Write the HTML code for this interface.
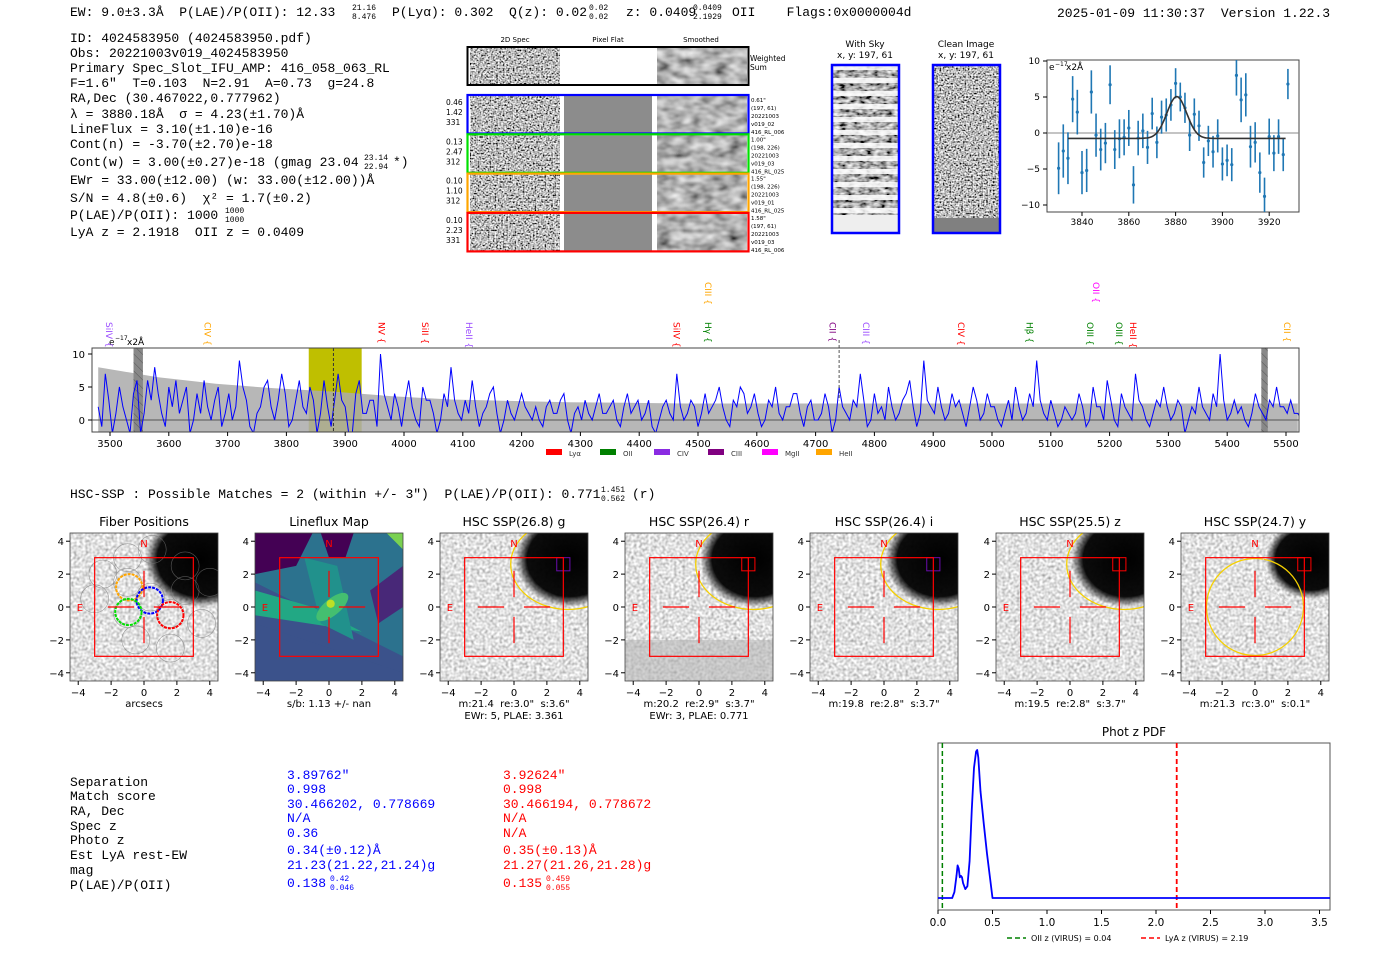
<!DOCTYPE html>
<html><head><meta charset="utf-8">
<style>
html,body{margin:0;padding:0;background:#fff;}
svg{display:block;}
svg text{white-space:pre;}
.mono{font-family:"Liberation Mono","DejaVu Sans Mono",monospace;fill:#000;}
.sans{font-family:"DejaVu Sans","Liberation Sans",sans-serif;}
.tk{font-family:"DejaVu Sans","Liberation Sans",sans-serif;fill:#000;}
</style></head>
<body>
<svg id="fig" width="1400" height="953" viewBox="0 0 1400 953" xmlns="http://www.w3.org/2000/svg" font-size="13">
<defs>
 <filter id="noiseHi" x="0" y="0" width="100%" height="100%">
  <feTurbulence type="fractalNoise" baseFrequency="0.6" numOctaves="1" seed="3"/>
  <feColorMatrix type="saturate" values="0"/>
  <feComponentTransfer><feFuncR type="linear" slope="3.2" intercept="-1.1"/><feFuncG type="linear" slope="3.2" intercept="-1.1"/><feFuncB type="linear" slope="3.2" intercept="-1.1"/><feFuncA type="linear" slope="0" intercept="1"/></feComponentTransfer>
 </filter>
 <filter id="noiseSm" x="0" y="0" width="100%" height="100%">
  <feTurbulence type="fractalNoise" baseFrequency="0.07 0.12" numOctaves="2" seed="7"/>
  <feColorMatrix type="saturate" values="0"/>
  <feComponentTransfer><feFuncR type="linear" slope="1.4" intercept="-0.25"/><feFuncG type="linear" slope="1.4" intercept="-0.25"/><feFuncB type="linear" slope="1.4" intercept="-0.25"/><feFuncA type="linear" slope="0" intercept="1"/></feComponentTransfer>
 </filter>
 <filter id="noiseImg" x="0" y="0" width="100%" height="100%">
  <feTurbulence type="fractalNoise" baseFrequency="0.35" numOctaves="1" seed="11"/>
  <feColorMatrix type="saturate" values="0"/>
  <feComponentTransfer><feFuncR type="linear" slope="1.5" intercept="0.0"/><feFuncG type="linear" slope="1.5" intercept="0.0"/><feFuncB type="linear" slope="1.5" intercept="0.0"/><feFuncA type="linear" slope="0" intercept="1"/></feComponentTransfer>
 </filter>
 <filter id="noiseSky" x="0" y="0" width="100%" height="100%">
  <feTurbulence type="fractalNoise" baseFrequency="0.15 0.3" numOctaves="2" seed="5"/>
  <feColorMatrix type="saturate" values="0"/>
  <feComponentTransfer><feFuncR type="linear" slope="2.2" intercept="-0.7"/><feFuncG type="linear" slope="2.2" intercept="-0.7"/><feFuncB type="linear" slope="2.2" intercept="-0.7"/><feFuncA type="linear" slope="0" intercept="1"/></feComponentTransfer>
 </filter>
 <radialGradient id="blob"><stop offset="0" stop-color="#000" stop-opacity="1"/><stop offset="0.78" stop-color="#000" stop-opacity="0.95"/><stop offset="1" stop-color="#000" stop-opacity="0"/></radialGradient>
 <pattern id="stripes" width="68" height="13" patternUnits="userSpaceOnUse"><rect width="68" height="5" fill="#fff" opacity="0.85"/></pattern>
 <pattern id="hatch" width="6" height="6" patternUnits="userSpaceOnUse" patternTransform="rotate(-45)"><line x1="0" y1="0" x2="0" y2="6" stroke="#333" stroke-width="1"/></pattern>
</defs>

<g>
<text class="mono" x="70" y="16">EW: 9.0±3.3Å  P(LAE)/P(OII): 12.33</text>
<text class="mono" x="352" y="10" style="font-size:8px">21.16</text><text class="mono" x="352" y="19" style="font-size:8px">8.476</text>
<text class="mono" x="392" y="16">P(Lyα): 0.302  Q(z): 0.02</text>
<text class="mono" x="589" y="10" style="font-size:8px">0.02</text><text class="mono" x="589" y="19" style="font-size:8px">0.02</text>
<text class="mono" x="626" y="16">z: 0.0409</text>
<text class="mono" x="693" y="10" style="font-size:8px">0.0409</text><text class="mono" x="693" y="19" style="font-size:8px">2.1929</text>
<text class="mono" x="732" y="16">OII    Flags:0x0000004d</text>
<text class="mono" x="1057" y="17">2025-01-09 11:30:37  Version 1.22.3</text>
</g>

<g>
<text class="mono" x="70" y="42">ID: 4024583950 (4024583950.pdf)</text>
<text class="mono" x="70" y="57">Obs: 20221003v019_4024583950</text>
<text class="mono" x="70" y="72">Primary Spec_Slot_IFU_AMP: 416_058_063_RL</text>
<text class="mono" x="70" y="87">F=1.6"  T=0.103  N=2.91  A=0.73  g=24.8</text>
<text class="mono" x="70" y="102">RA,Dec (30.467022,0.777962)</text>
<text class="mono" x="70" y="118">λ = 3880.18Å  σ = 4.23(±1.70)Å</text>
<text class="mono" x="70" y="133">LineFlux = 3.10(±1.10)e-16</text>
<text class="mono" x="70" y="148">Cont(n) = -3.70(±2.70)e-18</text>
<text class="mono" x="70" y="166">Cont(w) = 3.00(±0.27)e-18 (gmag 23.04</text>
<text class="mono" x="364" y="160" style="font-size:8px">23.14</text><text class="mono" x="364" y="169" style="font-size:8px">22.94</text>
<text class="mono" x="393" y="166">*)</text>
<text class="mono" x="70" y="184">EWr = 33.00(±12.00) (w: 33.00(±12.00))Å</text>
<text class="mono" x="70" y="202">S/N = 4.8(±0.6)  χ² = 1.7(±0.2)</text>
<text class="mono" x="70" y="219">P(LAE)/P(OII): 1000</text>
<text class="mono" x="225" y="213" style="font-size:8px">1000</text><text class="mono" x="225" y="222" style="font-size:8px">1000</text>
<text class="mono" x="70" y="236">LyA z = 2.1918  OII z = 0.0409</text>
</g>

<g class="sans">
<text x="515" y="42" font-size="7" text-anchor="middle">2D Spec</text>
<text x="608" y="42" font-size="7" text-anchor="middle">Pixel Flat</text>
<text x="701" y="42" font-size="7" text-anchor="middle">Smoothed</text>
<g>
<rect x="470" y="48" width="90" height="36" fill="#888" filter="url(#noiseHi)"/>
<rect x="657" y="48" width="90" height="36" fill="#888" filter="url(#noiseSm)"/>
<rect x="467.5" y="47" width="281" height="38" fill="none" stroke="#000" stroke-width="2"/>
<text x="750" y="61" font-size="7.5">Weighted</text><text x="750" y="70" font-size="7.5">Sum</text>
</g>
<g id="fiberRows"></g>
</g>

<g class="sans">
<text x="865" y="47" font-size="9" text-anchor="middle">With Sky</text>
<text x="865" y="58" font-size="9" text-anchor="middle">x, y: 197, 61</text>
<text x="966" y="47" font-size="9" text-anchor="middle">Clean Image</text>
<text x="966" y="58" font-size="9" text-anchor="middle">x, y: 197, 61</text>
<rect x="832" y="65" width="67" height="168" fill="#777" filter="url(#noiseSky)"/>
<rect x="832" y="65" width="67" height="168" fill="url(#stripes)"/>
<rect x="832" y="215" width="67" height="18" fill="#eee"/>
<rect x="832" y="65" width="67" height="168" fill="none" stroke="#00f" stroke-width="2.5"/>
<rect x="933" y="65" width="67" height="168" fill="#888" filter="url(#noiseHi)"/>
<rect x="933" y="218" width="67" height="15" fill="#808080"/>
<rect x="933" y="65" width="67" height="168" fill="none" stroke="#00f" stroke-width="2.5"/>
</g>

<g id="inset"></g>
<g id="spec"></g>

<g>
<text class="mono" x="70" y="498">HSC-SSP : Possible Matches = 2 (within +/- 3")  P(LAE)/P(OII): 0.771</text>
<text class="mono" x="601" y="492" style="font-size:8px">1.451</text><text class="mono" x="601" y="501" style="font-size:8px">0.562</text>
<text class="mono" x="632" y="498">(r)</text>
</g>
<g id="panels"></g>

<g>
<g class="mono">
<text x="70" y="786">Separation</text><text x="70" y="800">Match score</text><text x="70" y="815">RA, Dec</text><text x="70" y="830">Spec z</text><text x="70" y="844">Photo z</text><text x="70" y="859">Est LyA rest-EW</text><text x="70" y="874">mag</text><text x="70" y="889">P(LAE)/P(OII)</text>
</g>
<g class="mono">
<text x="287" y="779" fill="#00f">3.89762"</text><text x="287" y="793" fill="#00f">0.998</text><text x="287" y="808" fill="#00f">30.466202, 0.778669</text><text x="287" y="822" fill="#00f">N/A</text><text x="287" y="837" fill="#00f">0.36</text><text x="287" y="854" fill="#00f">0.34(±0.12)Å</text><text x="287" y="869" fill="#00f">21.23(21.22,21.24)g</text><text x="287" y="887" fill="#00f">0.138</text>
<text x="330" y="881" style="font-size:8px" fill="#00f">0.42</text><text x="330" y="890" style="font-size:8px" fill="#00f">0.046</text>
</g>
<g class="mono">
<text x="503" y="779" fill="#f00">3.92624"</text><text x="503" y="793" fill="#f00">0.998</text><text x="503" y="808" fill="#f00">30.466194, 0.778672</text><text x="503" y="822" fill="#f00">N/A</text><text x="503" y="837" fill="#f00">N/A</text><text x="503" y="854" fill="#f00">0.35(±0.13)Å</text><text x="503" y="869" fill="#f00">21.27(21.26,21.28)g</text><text x="503" y="887" fill="#f00">0.135</text>
<text x="546" y="881" style="font-size:8px" fill="#f00">0.459</text><text x="546" y="890" style="font-size:8px" fill="#f00">0.055</text>
</g>
</g>

<g id="photz"></g>
</svg>

<script>
const specStart = 3480, specStep = 6;
const specFlux = [2,-1,7,3,-2,1,5,2,0,-2,4,6,-2,1,6,3,8,4,1,-1,5,2,
 6,1,3,5,-2,0,4,1,6,2,0,3,5,-1,1,4,0,2,9,5,3,-1,
 -2,1,2,5,6,2,0,3,7,4,-1,0,3,6,2,1,5,3,-2,1,
 6,2,-1,3,7,3,2,-2,-2,4,6,1,1,3,3,-1,10,4,
 2,0,4,2,-1,3,6,2,0,-1,5,3,3,1,-2,0,4,2,8,3,1,0,
 3,1,6,2,-1,1,2,4,5,1,-2,0,3,1,0,2,4,2,1,0,
 2,0,-1,2,3,1,1,3,4,0,-2,1,2,0,3,1,0,2,4,1,
 1,2,3,0,-1,2,4,1,2,3,0,1,3,-1,-2,0,2,3,1,0,
 7,2,0,1,3,2,-1,1,4,1,2,3,5,2,0,-1,3,2,5,4,
 1,2,4,1,-1,0,3,2,5,1,0,2,2,4,4,1,-1,2,3,0,
 0,1,4,2,-2,0,5,2,1,0,3,2,7,3,-1,0,4,1,2,0,
 5,2,0,1,3,4,6,2,-1,1,9,3,2,1,5,2,0,1,4,2,
 3,1,-1,2,5,3,0,1,4,2,2,0,-1,1,3,0,5,2,0,1,
 4,2,9,3,1,0,3,1,-1,0,2,1,0,1,4,2,-1,0,5,2,
 2,0,6,3,0,-1,4,2,1,0,7,3,2,0,-1,1,3,2,5,2,
 0,1,3,2,-2,0,2,1,5,2,1,0,4,2,10,3,0,1,3,1,
 2,0,-1,1,4,2,1,0,3,2,5,2,2,1,3,1,1,0,0];
const errWave = [3480,3580,3680,3780,3880,3980,4080,4180,4280,4380,4480,4580,4680,4780,4880,4980,5080,5180,5280,5380,5480,5520];
const errVal  = [8,6.5,5.5,4.8,4.3,3.6,3.1,2.9,2.7,2.6,2.5,2.5,2.5,2.5,2.5,2.5,2.5,2.5,2.5,2.5,2.5,2.5];
const specXTicks = [3500,3600,3700,3800,3900,4000,4100,4200,4300,4400,4500,4600,4700,4800,4900,5000,5100,5200,5300,5400,5500];
const specYTicks = [0,5,10];
const lineNames  = ["SiIV","CIV","NV","SiII","HeII","SiIV","Hγ","CIII","CII","CIII","CIV","Hβ","OIII","OII","OIII","HeII","CII"];
const lineWaves  = [3497,3664,3960,4034,4109,4462,4515,4515,4727,4784,4946,5062,5165,5175,5214,5238,5500];
const lineColors = ["#9b4dff","#ffa500","#ff0000","#ff0000","#9b4dff","#ff0000","#008000","#ffa500","#800080","#9b4dff","#ff0000","#008000","#008000","#ff00ff","#008000","#ff0000","#ffa500"];
const lineHigh   = [0,0,0,0,0,0,0,1,0,0,0,0,0,1,0,0,0];
const legendNames = ["Lyα","OII","CIV","CIII","MgII","HeII"];
const legendColors = ["#ff0000","#008000","#8a2be2","#800080","#ff00ff","#ffa500"];

const fitWave = [3830,3832,3834,3836,3838,3840,3842,3844,3846,3848,3850,3852,3854,3856,3858,3860,3862,3864,3866,3868,3870,3872,3874,3876,3878,3880,3882,3884,3886,3888,3890,3892,3894,3896,3898,3900,3902,3904,3906,3908,3910,3912,3914,3916,3918,3920,3922,3924,3926,3928];
const fitFlux = [-4.9,-2.5,-3.5,4.7,2.9,-5.5,-5.2,5.7,-0.3,-2.3,-1.4,6.7,-2.3,-0.8,-0.6,0.7,-7.2,-0.7,0.3,-2,2.7,-1.3,2.2,2.5,3.9,6.9,5,3.5,-0.3,2.6,1,-4.1,-1.1,-2.6,-0.4,-4.3,-3.8,-4.4,8,4.6,5.3,-1.9,-1.3,-5.5,-8.8,-0.5,-2.8,-0.5,-3,6.8];
const fitErr  = [3.6,3.7,3.6,3.2,3.1,3,3,3,3,2.9,2.8,2.7,2.7,2.7,2.5,2.5,2.6,2.4,2.4,2.3,2.2,2.2,2.3,2.3,2.2,2.1,2,2.1,2.2,2.2,2.1,2.1,2.1,2.2,2.3,2.3,2.2,2.3,2.8,3.1,3,2.9,2.8,2.8,2.6,2.5,2.5,2.4,2.3,2.1];
const fitCenter = 3880.5, fitSigma = 4.23, fitAmp = 5.8, fitBase = -0.75;
const fitXTicks = [3840,3860,3880,3900,3920];
const fitYTicks = [-10,-5,0,5,10];

const pzZ   = [0,0.13,0.15,0.17,0.18,0.19,0.2,0.21,0.22,0.23,0.25,0.27,0.29,0.31,0.33,0.35,0.36,0.37,0.39,0.42,0.45,0.48,0.5,3.6];
const pzPdf = [0,0,0.04,0.15,0.22,0.2,0.14,0.15,0.14,0.1,0.06,0.08,0.25,0.6,0.88,0.99,1.0,0.95,0.72,0.5,0.3,0.12,0,0];
const pzTicks = [0,0.5,1,1.5,2,2.5,3,3.5];
const pzOII = 0.04, pzLyA = 2.19;

const panelTitles = ["Fiber Positions","Lineflux Map","HSC SSP(26.8) g","HSC SSP(26.4) r","HSC SSP(26.4) i","HSC SSP(25.5) z","HSC SSP(24.7) y"];
const panelFoot1 = ["arcsecs","s/b: 1.13 +/- nan",'m:21.4  re:3.0"  s:3.6"','m:20.2  re:2.9"  s:3.7"','m:19.8  re:2.8"  s:3.7"','m:19.5  re:2.8"  s:3.7"','m:21.3  rc:3.0"  s:0.1"'];
const panelFoot2 = ["","","EWr: 5, PLAE: 3.361","EWr: 3, PLAE: 0.771","","",""];
const panelTicks = [-4,-2,0,2,4];

const NS = "http://www.w3.org/2000/svg";
function mk(tag, attrs, parent){ const e=document.createElementNS(NS,tag); for(const k in attrs) e.setAttribute(k,attrs[k]); parent.appendChild(e); return e; }
function txt(str, attrs, parent){ const e=mk("text",attrs,parent); e.textContent=str; return e; }

(function(){
 const g=document.getElementById("fiberRows");
 const cols=["#0000ff","#00e000","#ffa500","#ff0000"];
 const left=[["0.46","1.42","331"],["0.13","2.47","312"],["0.10","1.10","312"],["0.10","2.23","331"]];
 const right=[['0.61"',"(197, 61)","20221003","v019_02","416_RL_006"],['1.00"',"(198, 226)","20221003","v019_03","416_RL_025"],['1.55"',"(198, 226)","20221003","v019_01","416_RL_025"],['1.58"',"(197, 61)","20221003","v019_03","416_RL_006"]];
 for(let i=0;i<4;i++){
  const y=95+i*39.3;
  const row=mk("g",{},g);
  
  
  mk("rect",{x:470,y:y+1,width:90,height:37,fill:"#888",filter:"url(#noiseHi)"},row);
  mk("rect",{x:564,y:y+1,width:88,height:37,fill:"#8c8c8c"},row);
  mk("rect",{x:657,y:y+1,width:90,height:37,fill:"#888",filter:"url(#noiseSm)"},row);
  mk("rect",{x:467.5,y:y,width:281,height:38.5,fill:"none",stroke:cols[i],"stroke-width":2.2},row);
  left[i].forEach((s,j)=>txt(s,{x:446,y:y+10+j*10,"font-size":7.5},row));
  right[i].forEach((s,j)=>txt(s,{x:751,y:y+7+j*8,"font-size":5.5},row));
 }
})();

(function(){
 const g=document.getElementById("inset");
 const X0=1047,X1=1299,Y0=60,Y1=212;
 const xs=v=>1082+(v-3840)*2.34, ys=v=>133-7.2*v;
 mk("rect",{x:X0,y:Y0,width:X1-X0,height:Y1-Y0,fill:"#fff",stroke:"#444","stroke-width":1},g);
 mk("line",{x1:X0,x2:X1,y1:ys(0),y2:ys(0),stroke:"#888","stroke-width":1},g);
 fitXTicks.forEach(t=>{mk("line",{x1:xs(t),x2:xs(t),y1:Y1,y2:Y1+4,stroke:"#000"},g);txt(String(t),{x:xs(t),y:Y1+13,class:"tk","text-anchor":"middle","font-size":9},g);});
 fitYTicks.forEach(t=>{mk("line",{x1:X0-4,x2:X0,y1:ys(t),y2:ys(t),stroke:"#000"},g);txt(String(t).replace("-","−"),{x:X0-7,y:ys(t)+3,class:"tk","text-anchor":"end","font-size":9},g);});
 for(let i=0;i<fitWave.length;i++){
  const x=xs(fitWave[i]);
  const b=mk("line",{x1:x,x2:x,y1:Math.max(Y0,ys(fitFlux[i]+fitErr[i])),y2:Math.min(Y1,ys(fitFlux[i]-fitErr[i])),stroke:"#1f77b4","stroke-width":1.6},g);
  
  
  const p=mk("circle",{cx:x,cy:ys(fitFlux[i]),r:1.6,fill:"#1f77b4"},g);
  
  
 }
 let d="";
 for(let w=3834;w<=3927;w+=0.5){const v=fitBase+fitAmp*Math.exp(-0.5*Math.pow((w-fitCenter)/fitSigma,2));d+=(d?"L":"M")+xs(w).toFixed(1)+","+ys(v).toFixed(1);}
 const c=mk("path",{d:d,fill:"none",stroke:"#333","stroke-width":1.6},g);
 
 
 txt("e",{x:X0+2,y:Y0+10,class:"tk","font-size":9},g);
 txt("−17",{x:X0+8,y:Y0+6,class:"tk","font-size":6},g);
 txt("x2Å",{x:X0+19,y:Y0+10,class:"tk","font-size":9},g);
})();

(function(){
 const g=document.getElementById("spec");
 const X0=92,X1=1299,Y0=348,Y1=432;
 const xs=w=>110+(w-3500)*0.588, ys=v=>420-6.6*v;
 mk("rect",{x:X0,y:Y0,width:X1-X0,height:Y1-Y0,fill:"#fff"},g);
 const clip=mk("clipPath",{id:"specClip"},g); mk("rect",{x:X0,y:Y0,width:X1-X0,height:Y1-Y0},clip);
 const inner=mk("g",{"clip-path":"url(#specClip)"},g);
 const yb=mk("rect",{x:xs(3838),y:Y0,width:xs(3928)-xs(3838),height:Y1-Y0,fill:"#bfbf00"},inner);
 
 
 let d="M"+xs(errWave[0])+","+Y1;
 errWave.forEach((w,i)=>{d+="L"+xs(w).toFixed(1)+","+ys(errVal[i]).toFixed(1);});
 d+="L"+xs(errWave[errWave.length-1])+","+Y1+"Z";
 const band=mk("path",{d:d,fill:"#aaaaaa",opacity:0.85},inner);
 
 
 [[3540,3556],[5458,5469]].forEach(r=>{mk("rect",{x:xs(r[0]),y:Y0,width:xs(r[1])-xs(r[0]),height:Y1-Y0,fill:"#888"},inner);mk("rect",{x:xs(r[0]),y:Y0,width:xs(r[1])-xs(r[0]),height:Y1-Y0,fill:"url(#hatch)",opacity:0.6},inner);});
 mk("line",{x1:X0,x2:X1,y1:ys(0),y2:ys(0),stroke:"#555","stroke-width":1},inner);
 let p="";
 specFlux.forEach((v,i)=>{p+=(i?"L":"M")+xs(specStart+i*specStep).toFixed(1)+","+ys(v).toFixed(1);});
 const sl=mk("path",{d:p,fill:"none",stroke:"#0000ff","stroke-width":1},inner);
 
 
 mk("line",{x1:xs(3880),x2:xs(3880),y1:Y0,y2:Y1,stroke:"#333","stroke-dasharray":"3,2"},inner);
 mk("line",{x1:xs(4740),x2:xs(4740),y1:Y0-8,y2:ys(3),stroke:"#555","stroke-dasharray":"3,2"},g);
 mk("rect",{x:X0,y:Y0,width:X1-X0,height:Y1-Y0,fill:"none",stroke:"#444"},g);
 specXTicks.forEach(t=>{mk("line",{x1:xs(t),x2:xs(t),y1:Y1,y2:Y1+4,stroke:"#000"},g);txt(String(t),{x:xs(t),y:Y1+15,class:"tk","text-anchor":"middle","font-size":10},g);});
 specYTicks.forEach(t=>{mk("line",{x1:X0-4,x2:X0,y1:ys(t),y2:ys(t),stroke:"#000"},g);txt(String(t),{x:X0-7,y:ys(t)+4,class:"tk","text-anchor":"end","font-size":10},g);});
 txt("e",{x:X0+17,y:Y0-3,class:"tk","font-size":9},g);
 txt("−17",{x:X0+23,y:Y0-8,class:"tk","font-size":6},g);
 txt("x2Å",{x:X0+35,y:Y0-3,class:"tk","font-size":9},g);
 lineNames.forEach((n,i)=>{
  const x=xs(lineWaves[i]), y0=lineHigh[i]?282:322;
  const t=txt(n+" {",{x:x,y:y0,class:"sans","font-size":9,fill:lineColors[i],transform:"rotate(90 "+x+" "+y0+")","dominant-baseline":"central"},g);
  
  
 });
 legendNames.forEach((n,i)=>{
  const lx=546+i*54;
  const r=mk("rect",{x:lx,y:449,width:16,height:6,fill:legendColors[i]},g);
  
  
  txt(n,{x:lx+23,y:456,class:"sans","font-size":7,fill:"#333"},g);
 });
})();

(function(){
 const g=document.getElementById("panels");
 const lefts=[70,255,440,625,810,996,1181];
 const W=148, T=533, H=148, su=W/9;
 lefts.forEach((L,k)=>{
  const pg=mk("g",{},g);
  
  
  const cx=L+W/2, cy=T+H/2;
  const X=v=>cx+v*su, Y=v=>cy-v*su;
  const cid="pc"+k; const cp=mk("clipPath",{id:cid},pg); mk("rect",{x:L,y:T,width:W,height:H},cp);
  const ig=mk("g",{"clip-path":"url(#"+cid+")"},pg);
  if(k===1){
   mk("rect",{x:L,y:T,width:W,height:H,fill:"#3b528b"},ig);
   mk("polygon",{points:[X(-4.5),Y(4.5),X(4.5),Y(4.5),X(4.5),Y(-3),X(-4.5),Y(1.5)].join(","),fill:"#2c728e"},ig);
   mk("polygon",{points:[X(-4.5),Y(4.5),X(-1),Y(4.5),X(-2),Y(2.5),X(-4.5),Y(2)].join(","),fill:"#440154"},ig);
   mk("polygon",{points:[X(-0.5),Y(4.5),X(1.5),Y(4.5),X(1),Y(3),X(0),Y(3)].join(","),fill:"#440154"},ig);
   mk("polygon",{points:[X(2.5),Y(1),X(4.5),Y(2.5),X(4.5),Y(0),X(3),Y(-1)].join(","),fill:"#482878"},ig);
   mk("polygon",{points:[X(-4.5),Y(1),X(-1),Y(0),X(2),Y(-1.5),X(-4.5),Y(-0.5)].join(","),fill:"#22a884"},ig);
   mk("polygon",{points:[X(-1.5),Y(3),X(0.5),Y(2.5),X(1.5),Y(-2),X(-0.5),Y(-1)].join(","),fill:"#21918c"},ig);
   mk("ellipse",{cx:X(0.2),cy:Y(0),rx:su*1.2,ry:su*0.5,fill:"#44bf70",transform:"rotate(-40 "+X(0.2)+" "+Y(0)+")"},ig);
   mk("circle",{cx:X(0.1),cy:Y(0.2),r:su*0.25,fill:"#bddf26"},ig);
   mk("polygon",{points:[X(3.5),Y(4.5),X(4.5),Y(4.5),X(4.5),Y(3.5)].join(","),fill:"#7ad151"},ig);
   mk("polygon",{points:[X(-4.5),Y(-1),X(4.5),Y(-4),X(4.5),Y(-4.5),X(-4.5),Y(-4.5)].join(","),fill:"#3b528b"},ig);
  } else {
   mk("rect",{x:L,y:T,width:W,height:H,fill:"#999",filter:"url(#noiseImg)"},ig);
   if(k===3) mk("rect",{x:L,y:Y(-2),width:W,height:Y(-4.5)-Y(-2),fill:"#b5b5b5",opacity:0.6},ig);
   const br = k===6?2.4:2.9;
   mk("ellipse",{cx:X(3.4),cy:Y(2.9),rx:su*br*1.15,ry:su*br,fill:"url(#blob)"},ig);
   if(k===0){
    const fib=[[-2.5,2],[-1,3],[0.5,3.5],[2.5,2.5],[4,1.5],[-3,0.5],[-1,1.5],[0.4,0.6],[-1,-0.4],[1.6,-0.4],[2.5,1],[1.6,-2.5],[-0.5,-2],[3.5,-1]];
    fib.forEach(f=>mk("circle",{cx:X(f[0]),cy:Y(f[1]),r:su*0.85,fill:"none",stroke:"#777","stroke-width":0.6,opacity:0.7},ig));
    [[-0.9,1.2,"#ffa500"],[0.35,0.4,"#0000ff"],[-0.95,-0.3,"#00e000"],[1.6,-0.5,"#ff0000"]].forEach(f=>mk("circle",{cx:X(f[0]),cy:Y(f[1]),r:su*0.8,fill:"none",stroke:f[2],"stroke-width":2,"stroke-dasharray":"3,1"},ig));
   }
   if(k>=2){
    if(k===6){ mk("ellipse",{cx:X(0),cy:Y(0),rx:su*2.95,ry:su*2.95,fill:"none",stroke:"#f5d000","stroke-width":1.3},ig);
               mk("circle",{cx:X(3.3),cy:Y(2.8),r:su*2.8,fill:"none",stroke:"#ddd","stroke-dasharray":"3,2"},ig);}
    else mk("ellipse",{cx:X(3.3),cy:Y(2.6),rx:su*3.5,ry:su*2.75,fill:"none",stroke:"#f5d000","stroke-width":1.3},ig);
    mk("rect",{x:X(2.6),y:Y(3),width:su*0.8,height:su*0.8,fill:"none",stroke:(k===2||k===4)?"#6a0dad":"#f00","stroke-width":1},ig);
   }
  }
  mk("rect",{x:X(-3),y:Y(3),width:su*6,height:su*6,fill:"none",stroke:"#f00","stroke-width":1.2},pg);
  [[-2.2,0,-0.6,0],[0.6,0,2.2,0],[0,2.2,0,0.6],[0,-0.6,0,-2.2]].forEach(s=>mk("line",{x1:X(s[0]),y1:Y(s[1]),x2:X(s[2]),y2:Y(s[3]),stroke:"#f00","stroke-width":1.2},pg));
  txt("N",{x:X(0),y:Y(3.9)+4,class:"sans","font-size":10,fill:"#f00","text-anchor":"middle"},pg);
  txt("E",{x:X(-3.9),y:Y(0)+4,class:"sans","font-size":10,fill:"#f00","text-anchor":"middle"},pg);
  mk("rect",{x:L,y:T,width:W,height:H,fill:"none",stroke:"#444","stroke-width":0.8},pg);
  panelTicks.forEach(t=>{
   mk("line",{x1:X(t),x2:X(t),y1:T+H,y2:T+H+4,stroke:"#000"},pg);
   txt(String(t).replace("-","−"),{x:X(t),y:T+H+15,class:"tk","text-anchor":"middle","font-size":10},pg);
   mk("line",{x1:L-4,x2:L,y1:Y(t),y2:Y(t),stroke:"#000"},pg);
   txt(String(t).replace("-","−"),{x:L-6,y:Y(t)+4,class:"tk","text-anchor":"end","font-size":10},pg);
  });
  const tt=txt(panelTitles[k],{x:cx,y:T-7,class:"sans","font-size":12.5,"text-anchor":"middle"},pg);
  
  
  txt(panelFoot1[k],{x:cx,y:T+H+26,class:"tk","text-anchor":"middle","font-size":10},pg);
  if(panelFoot2[k]) txt(panelFoot2[k],{x:cx,y:T+H+38,class:"tk","text-anchor":"middle","font-size":10},pg);
 });
})();

(function(){
 const g=document.getElementById("photz");
 const X0=938,X1=1330,Y0=743,Y1=910;
 const xs=z=>938+z*109, ys=v=>898-v*148;
 mk("rect",{x:X0,y:Y0,width:X1-X0,height:Y1-Y0,fill:"#fff",stroke:"#555","stroke-width":1},g);
 txt("Phot z PDF",{x:(X0+X1)/2,y:Y0-7,class:"sans","font-size":12,"text-anchor":"middle"},g);
 pzTicks.forEach(t=>{mk("line",{x1:xs(t),x2:xs(t),y1:Y1,y2:Y1+4,stroke:"#000"},g);txt(t.toFixed(1),{x:xs(t),y:Y1+16,class:"tk","text-anchor":"middle","font-size":10.5},g);});
 const o=mk("line",{x1:xs(pzOII),x2:xs(pzOII),y1:Y0,y2:Y1,stroke:"#008000","stroke-width":1.5,"stroke-dasharray":"5,3"},g);
 
 
 const l=mk("line",{x1:xs(pzLyA),x2:xs(pzLyA),y1:Y0,y2:Y1,stroke:"#f00","stroke-width":1.8,"stroke-dasharray":"5,3"},g);
 
 
 let d="";
 pzZ.forEach((z,i)=>{d+=(i?"L":"M")+Math.min(xs(z),X1).toFixed(1)+","+ys(pzPdf[i]).toFixed(1);});
 const c=mk("path",{d:d,fill:"none",stroke:"#0000ff","stroke-width":1.8,"stroke-linejoin":"round"},g);
 
 
 mk("line",{x1:1007,x2:1026,y1:938,y2:938,stroke:"#008000","stroke-width":1.5,"stroke-dasharray":"5,3"},g);
 txt("OII z (VIRUS) = 0.04",{x:1031,y:941,class:"sans","font-size":8},g);
 mk("line",{x1:1141,x2:1160,y1:938,y2:938,stroke:"#f00","stroke-width":1.5,"stroke-dasharray":"5,3"},g);
 txt("LyA z (VIRUS) = 2.19",{x:1165,y:941,class:"sans","font-size":8},g);
})();
</script>
</body></html>
